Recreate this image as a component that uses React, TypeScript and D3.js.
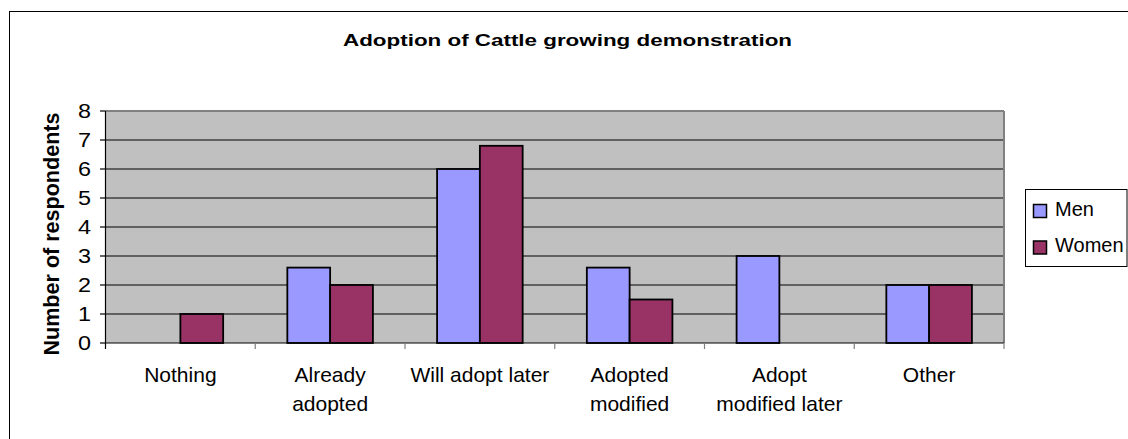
import React from "react";
import * as d3 from "d3";

const categories = [
  "Nothing",
  "Already adopted",
  "Will adopt later",
  "Adopted modified",
  "Adopt modified later",
  "Other",
];
const categoryLines = [
  ["Nothing"],
  ["Already", "adopted"],
  ["Will adopt later"],
  ["Adopted", "modified"],
  ["Adopt", "modified later"],
  ["Other"],
];
const seriesNames = ["Men", "Women"];
const men = [0, 2.6, 6, 2.6, 3, 2];
const women = [1, 2, 6.8, 1.5, 0, 2];
const yTicks = [0, 1, 2, 3, 4, 5, 6, 7, 8];
const title = "Adoption of Cattle growing demonstration";
const yTitle = "Number of respondents";

const colors = ["#9999FF", "#993366"];
const W = 1128;
const H = 439;
const plot = { left: 105.5, right: 1004, top: 111, bottom: 343 };
const font = "'Liberation Sans', Arial, sans-serif";

export default function App() {
  const x = d3.scaleBand<string>().domain(categories).range([plot.left, plot.right]);
  const xi = d3
    .scaleBand<string>()
    .domain(seriesNames)
    .range([0, x.bandwidth()])
    .paddingInner(0)
    .paddingOuter(0.75);
  const y = d3.scaleLinear().domain([0, 8]).range([plot.bottom, plot.top]);
  const series = [men, women];

  return (
    <svg
      width={W}
      height={H}
      style={{ position: "absolute", left: 0, top: 0 }}
      fontFamily={font}
    >
      <rect x={0} y={0} width={W} height={H} fill="#fff" />
      <rect x={9.5} y={11.5} width={1300} height={600} fill="none" stroke="#000" strokeWidth={1} />

      <text
        x={567.5}
        y={46}
        textAnchor="middle"
        fontWeight="bold"
        fontSize={16}
        textLength={449}
        lengthAdjust="spacingAndGlyphs"
      >
        {title}
      </text>

      {/* plot background */}
      <rect
        x={plot.left}
        y={plot.top}
        width={plot.right - plot.left}
        height={plot.bottom - plot.top}
        fill="#C0C0C0"
      />
      {/* gridlines */}
      {yTicks
        .filter((t) => t > 0 && t < 8)
        .map((t) => (
          <line
            key={"g" + t}
            x1={plot.left}
            x2={plot.right}
            y1={y(t)}
            y2={y(t)}
            stroke="#000"
            strokeWidth={1.2}
          />
        ))}
      {/* plot border top/right */}
      <line x1={plot.left} x2={plot.right} y1={plot.top} y2={plot.top} stroke="#808080" strokeWidth={2} />
      <line x1={plot.right} x2={plot.right} y1={plot.top} y2={plot.bottom} stroke="#808080" strokeWidth={2} />

      {/* bars */}
      {series.map((vals, si) =>
        vals.map((v, ci) =>
          v > 0 ? (
            <rect
              key={si + "-" + ci}
              x={(x(categories[ci]) as number) + (xi(seriesNames[si]) as number)}
              y={y(v)}
              width={xi.bandwidth()}
              height={y(0) - y(v)}
              fill={colors[si]}
              stroke="#000"
              strokeWidth={1.8}
            />
          ) : null
        )
      )}

      {/* axes */}
      <line x1={plot.left} x2={plot.left} y1={plot.top} y2={plot.bottom} stroke="#000" strokeWidth={1.2} />
      <line x1={plot.left} x2={plot.right} y1={plot.bottom} y2={plot.bottom} stroke="#000" strokeWidth={1.2} />
      {yTicks.map((t) => (
        <g key={"yt" + t}>
          <line x1={plot.left - 5.5} x2={plot.left} y1={y(t)} y2={y(t)} stroke="#000" strokeWidth={1.2} />
          <text
            x={91}
            y={y(t)}
            dy="0.36em"
            textAnchor="end"
            fontSize={20}
            textLength={13}
            lengthAdjust="spacingAndGlyphs"
          >
            {t}
          </text>
        </g>
      ))}
      {categories.map((c, i) => (
        <line
          key={"xt" + i}
          x1={x(c) as number}
          x2={x(c) as number}
          y1={plot.bottom}
          y2={plot.bottom + 6}
          stroke={i === 0 ? "#000" : "#808080"}
          strokeWidth={1.2}
        />
      ))}
      <line
        x1={plot.right}
        x2={plot.right}
        y1={plot.bottom}
        y2={plot.bottom + 6}
        stroke="#808080"
        strokeWidth={1.2}
      />
      {categories.map((c, i) => (
        <text
          key={"xl" + i}
          x={(x(c) as number) + x.bandwidth() / 2}
          y={381.5}
          textAnchor="middle"
          fontSize={21}
        >
          {categoryLines[i].map((ln, li) => (
            <tspan key={li} x={(x(c) as number) + x.bandwidth() / 2} dy={li === 0 ? 0 : 29.5}>
              {ln}
            </tspan>
          ))}
        </text>
      ))}

      <text
        transform={`translate(58.5, ${(112 + 356) / 2}) rotate(-90)`}
        textAnchor="middle"
        fontWeight="bold"
        fontSize={22}
        textLength={243}
        lengthAdjust="spacingAndGlyphs"
      >
        {yTitle}
      </text>

      {/* legend */}
      <rect x={1025.5} y={189.5} width={101.5} height={77} fill="#fff" stroke="#000" strokeWidth={1} />
      {seriesNames.map((s, i) => (
        <g key={"lg" + s}>
          <rect
            x={1033.5}
            y={204.5 + i * 36.5}
            width={13}
            height={13}
            fill={colors[i]}
            stroke="#000"
            strokeWidth={1.5}
          />
          <text x={1055} y={215.5 + i * 36.5} fontSize={20}>
            {s}
          </text>
        </g>
      ))}
    </svg>
  );
}
